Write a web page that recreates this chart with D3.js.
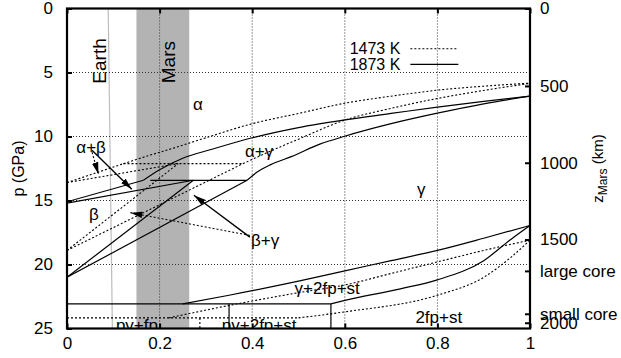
<!DOCTYPE html>
<html>
<head>
<meta charset="utf-8">
<script src="https://cdn.jsdelivr.net/npm/d3@7"></script>
<style>
body { margin: 0; background: #fff; }
svg text { font-family: "Liberation Sans", Arial, Helvetica, sans-serif; fill: #000; }
</style>
</head>
<body>
<div id="chart"></div>
<script>
// axis ticks
var xTicks = [0, 0.2, 0.4, 0.6, 0.8, 1];
var pTicks = [0, 5, 10, 15, 20, 25];
var zLabels = ["0", "500", "1000", "1500", "large core", "small core", "2000"];
var zAtP = [0, 6.05, 12.05, 18.05, 20.5, 23.85, 24.55];

// planet compositions (Fe fraction)
var marsRange = [0.150, 0.264];
var earthLine = [[0.089, 0], [0.098, 25]];

// 1873 K boundaries (solid), [Fe fraction, p GPa]
var hot_aab = [[0, 15.1], [0.165, 13.42]];
var hot_abb = [[0, 15.2], [0.273, 13.42]];
var hot_triple = [[0.18, 13.42], [0.389, 13.42]];
var hot_aag = [[0.165, 13.42], [0.2, 12.6], [0.25, 11.7], [0.313, 11.0], [0.4, 10.1], [0.5, 9.3], [0.6, 8.7], [0.7, 8.2], [0.8, 7.7], [0.9, 7.25], [1, 6.85]];
var hot_agg = [[0.389, 13.42], [0.41, 12.8], [0.44, 12.2], [0.486, 11.55], [0.546, 10.6], [0.6, 9.98], [0.7, 9.0], [0.8, 8.18], [0.9, 7.45], [1, 6.85]];
var hot_bbg = [[0, 21.0], [0.273, 13.42]];
var hot_bgg = [[0, 21.0], [0.389, 13.42]];
var hot_pvfp = [[0, 23.07], [0.57, 23.07]];
var hot_pvA = [[0.35, 23.07], [0.35, 25]];
var hot_pvB = [[0.57, 23.07], [0.57, 25]];
var hot_gst = [[0.25, 23.07], [0.35, 22.4], [0.5, 21.3], [0.6, 20.5], [0.7, 19.7], [0.8, 18.9], [0.9, 17.95], [1, 16.95]];
var hot_stfp = [[0.57, 23.07], [0.6, 22.8], [0.72, 21.9], [0.8, 21.2], [0.9, 19.7], [0.96, 18.0], [1, 16.95]];

// 1473 K boundaries (dotted)
var cold_aab = [[0, 13.6], [0.122, 12.12]];
var cold_abb = [[0, 13.6], [0.24, 12.12]];
var cold_triple = [[0.122, 12.12], [0.38, 12.12]];
var cold_aag = [[0.122, 12.12], [0.18, 11.45], [0.227, 10.94], [0.3, 10.1], [0.4, 9.0], [0.5, 8.2], [0.6, 7.4], [0.7, 6.85], [0.8, 6.38], [0.9, 6.07], [1, 5.83]];
var cold_agg = [[0.38, 12.12], [0.436, 11.2], [0.503, 10.16], [0.6, 8.72], [0.7, 7.8], [0.8, 7.03], [0.9, 6.4], [1, 5.85]];
var cold_bbg = [[0, 18.9], [0.24, 12.12]];
var cold_bgg = [[0, 18.9], [0.38, 12.12]];
var cold_pvfp = [[0, 24.17], [0.5, 24.17]];
var cold_pvA = [[0.287, 24.17], [0.287, 25]];
var cold_gst = [[0.22, 24.17], [0.35, 23.2], [0.5, 22.2], [0.6, 21.6], [0.7, 20.7], [0.8, 19.8], [0.9, 18.9], [1, 18.1]];
var cold_stfp = [[0.5, 24.17], [0.6, 23.7], [0.8, 22.4], [0.9, 21.0], [0.96, 19.4], [1, 18.1]];

// arrows [from, to]
var arrowsSolid = [[[0.054, 11.07], [0.140, 14.12]], [[0.395, 17.86], [0.274, 14.59]]];
var arrowsDotted = [[[0.054, 11.23], [0.068, 12.95]], [[0.395, 17.73], [0.137, 15.95]]];

// phase labels
var phaseNames = ["\u03b1", "\u03b1+\u03b2", "\u03b1+\u03b3", "\u03b2", "\u03b3", "\u03b2+\u03b3", "\u03b3+2fp+st", "2fp+st"];
var phaseAt = [[0.283, 7.47], [0.052, 10.84], [0.415, 11.15], [0.058, 16.08], [0.765, 14.12], [0.428, 18.11], [0.562, 21.87], [0.803, 24.14]];
var bottomNames = ["pv+fp", "pv+2fp+st"];
var bottomAt = [[0.151, 25.22], [0.415, 25.22]];

var margin = {top: 8.5, right: 91, bottom: 29.5, left: 67},
    svgwidth = 621, svgheight = 358,
    width = svgwidth - margin.left - margin.right,
    height = svgheight - margin.top - margin.bottom;

var x = d3.scaleLinear().domain([0, 1]).range([0, width]);
var y = d3.scaleLinear().domain([0, 25]).range([0, height]);

var svg = d3.select("#chart").append("svg")
    .attr("width", svgwidth)
    .attr("height", svgheight)
  .append("g")
    .attr("transform", "translate(" + margin.left + "," + margin.top + ")");

svg.append("defs").append("clipPath").attr("id", "plotclip")
  .append("rect").attr("width", width).attr("height", height);

svg.select("defs").append("marker")
    .attr("id", "head")
    .attr("markerUnits", "userSpaceOnUse")
    .attr("viewBox", "0 -5 12 10")
    .attr("refX", 12).attr("refY", 0)
    .attr("markerWidth", 12).attr("markerHeight", 10)
    .attr("orient", "auto")
  .append("path")
    .attr("d", "M0,-3.2L12,0L0,3.2Z")
    .attr("fill", "#000");

// Mars band and Earth line
svg.append("rect")
    .attr("x", x(marsRange[0]))
    .attr("width", x(marsRange[1]) - x(marsRange[0]))
    .attr("y", 0).attr("height", height)
    .attr("fill", "#b3b3b3");

var line = d3.line().x(d => x(d[0])).y(d => y(d[1]));
var curve = d3.line().x(d => x(d[0])).y(d => y(d[1])).curve(d3.curveMonotoneX);

svg.append("path").attr("d", line(earthLine))
    .attr("stroke", "#bdbdbd").attr("stroke-width", 1.2).attr("fill", "none");

// grid
var grid = svg.append("g").attr("class", "grid");
grid.selectAll("line.gx").data(xTicks.slice(1, -1)).enter().append("line")
    .attr("x1", d => x(d)).attr("x2", d => x(d))
    .attr("y1", 0).attr("y2", height);
grid.selectAll("line.gy").data(pTicks.slice(1, -1)).enter().append("line")
    .attr("x1", 0).attr("x2", width)
    .attr("y1", d => y(d)).attr("y2", d => y(d));
grid.selectAll("line")
    .attr("stroke", "#333").attr("stroke-width", 1).attr("stroke-dasharray", "1,2");

// phase boundaries
var plot = svg.append("g").attr("clip-path", "url(#plotclip)");
var straightHot = [hot_aab, hot_abb, hot_triple, hot_bbg, hot_bgg, hot_pvfp, hot_pvA, hot_pvB];
var curvedHot = [hot_aag, hot_agg, hot_gst, hot_stfp];
var straightCold = [cold_aab, cold_abb, cold_triple, cold_bbg, cold_bgg, cold_pvfp, cold_pvA];
var curvedCold = [cold_aag, cold_agg, cold_gst, cold_stfp];

plot.selectAll("path.hs").data(straightHot).enter().append("path").attr("d", line);
plot.selectAll("path.hc").data(curvedHot).enter().append("path").attr("d", curve);
plot.selectAll("path").attr("class", "hot");
plot.selectAll("path.cs").data(straightCold).enter().append("path").attr("d", line).attr("class", "cold");
plot.selectAll("path.cc").data(curvedCold).enter().append("path").attr("d", curve).attr("class", "cold");

plot.selectAll("path.hot").attr("stroke", "#000").attr("stroke-width", 1.2).attr("fill", "none");
plot.selectAll("path.cold").attr("stroke", "#000").attr("stroke-width", 1.1).attr("fill", "none")
    .attr("stroke-dasharray", "2,2");

// arrows
plot.selectAll("path.as").data(arrowsSolid).enter().append("path")
    .attr("d", line).attr("stroke", "#000").attr("stroke-width", 1.3).attr("fill", "none")
    .attr("marker-end", "url(#head)");
plot.selectAll("path.ad").data(arrowsDotted).enter().append("path")
    .attr("d", line).attr("stroke", "#000").attr("stroke-width", 1.1).attr("fill", "none")
    .attr("stroke-dasharray", "2,2")
    .attr("marker-end", "url(#head)");

// labels
svg.selectAll("text.phase").data(phaseNames).enter().append("text")
    .attr("class", "phase")
    .attr("x", (d, i) => x(phaseAt[i][0]))
    .attr("y", (d, i) => y(phaseAt[i][1]))
    .attr("dy", "0.35em")
    .attr("text-anchor", "middle")
    .style("font-size", "17px")
    .text(d => d);

plot.selectAll("text.bottom").data(bottomNames).enter().append("text")
    .attr("x", (d, i) => x(bottomAt[i][0]))
    .attr("y", (d, i) => y(bottomAt[i][1]))
    .attr("text-anchor", "middle")
    .style("font-size", "17px")
    .text(d => d);

svg.append("text")
    .attr("transform", "translate(" + x(0.069) + "," + y(4.1) + ") rotate(-90)")
    .attr("text-anchor", "middle").attr("dy", "0.35em")
    .style("font-size", "19px").text("Earth");
svg.append("text")
    .attr("transform", "translate(" + x(0.218) + "," + y(4.19) + ") rotate(-90)")
    .attr("text-anchor", "middle").attr("dy", "0.35em")
    .style("font-size", "19px").text("Mars");

// legend
var legend = svg.append("g").attr("transform", "translate(" + x(0.72) + "," + y(3.15) + ")");
legend.append("text").attr("x", 0).attr("y", 0).attr("dy", "0.35em")
    .attr("text-anchor", "end").style("font-size", "16px").text("1473 K");
legend.append("line").attr("x1", 10).attr("x2", 57).attr("y1", 0).attr("y2", 0)
    .attr("stroke", "#000").attr("stroke-width", 1.1).attr("stroke-dasharray", "2,2");
legend.append("text").attr("x", 0).attr("y", 15.5).attr("dy", "0.35em")
    .attr("text-anchor", "end").style("font-size", "16px").text("1873 K");
legend.append("line").attr("x1", 10).attr("x2", 58).attr("y1", 15.5).attr("y2", 15.5)
    .attr("stroke", "#000").attr("stroke-width", 1.2);

// axes
var xAxis = d3.axisBottom(x).tickValues(xTicks).tickFormat(d3.format("")).tickSize(-5).tickPadding(8);
var xTop = d3.axisTop(x).tickValues(xTicks).tickFormat("").tickSize(-5);
var yAxis = d3.axisLeft(y).tickValues(pTicks).tickSize(-5).tickPadding(14);
var zAxis = d3.axisRight(y).tickValues(zAtP).tickFormat((d, i) => zLabels[i]).tickSize(-5).tickPadding(10);

svg.append("g").attr("transform", "translate(0," + height + ")").call(xAxis);
svg.append("g").call(xTop);
svg.append("g").call(yAxis);
svg.append("g").attr("transform", "translate(" + width + ",0)").call(zAxis);

svg.selectAll(".domain").remove();
svg.selectAll(".tick line").attr("stroke", "#000").attr("stroke-width", 2);
svg.selectAll(".tick text").style("font-size", "17px").attr("fill", "#000");

svg.append("rect").attr("width", width).attr("height", height)
    .attr("fill", "none").attr("stroke", "#000").attr("stroke-width", 2.2);

// axis titles
svg.append("text")
    .attr("transform", "translate(" + (-49) + "," + y(12.5) + ") rotate(-90)")
    .attr("text-anchor", "middle").attr("dy", "0.35em")
    .style("font-size", "16px").text("p (GPa)");

var zt = svg.append("text")
    .attr("transform", "translate(" + (width + 68) + "," + y(12.5) + ") rotate(-90)")
    .attr("text-anchor", "middle").attr("dy", "0.35em")
    .style("font-size", "15px");
zt.append("tspan").text("z");
zt.append("tspan").attr("dy", "4").style("font-size", "12px").text("Mars");
zt.append("tspan").attr("dy", "-4").text(" (km)");
</script>
</body>
</html>
